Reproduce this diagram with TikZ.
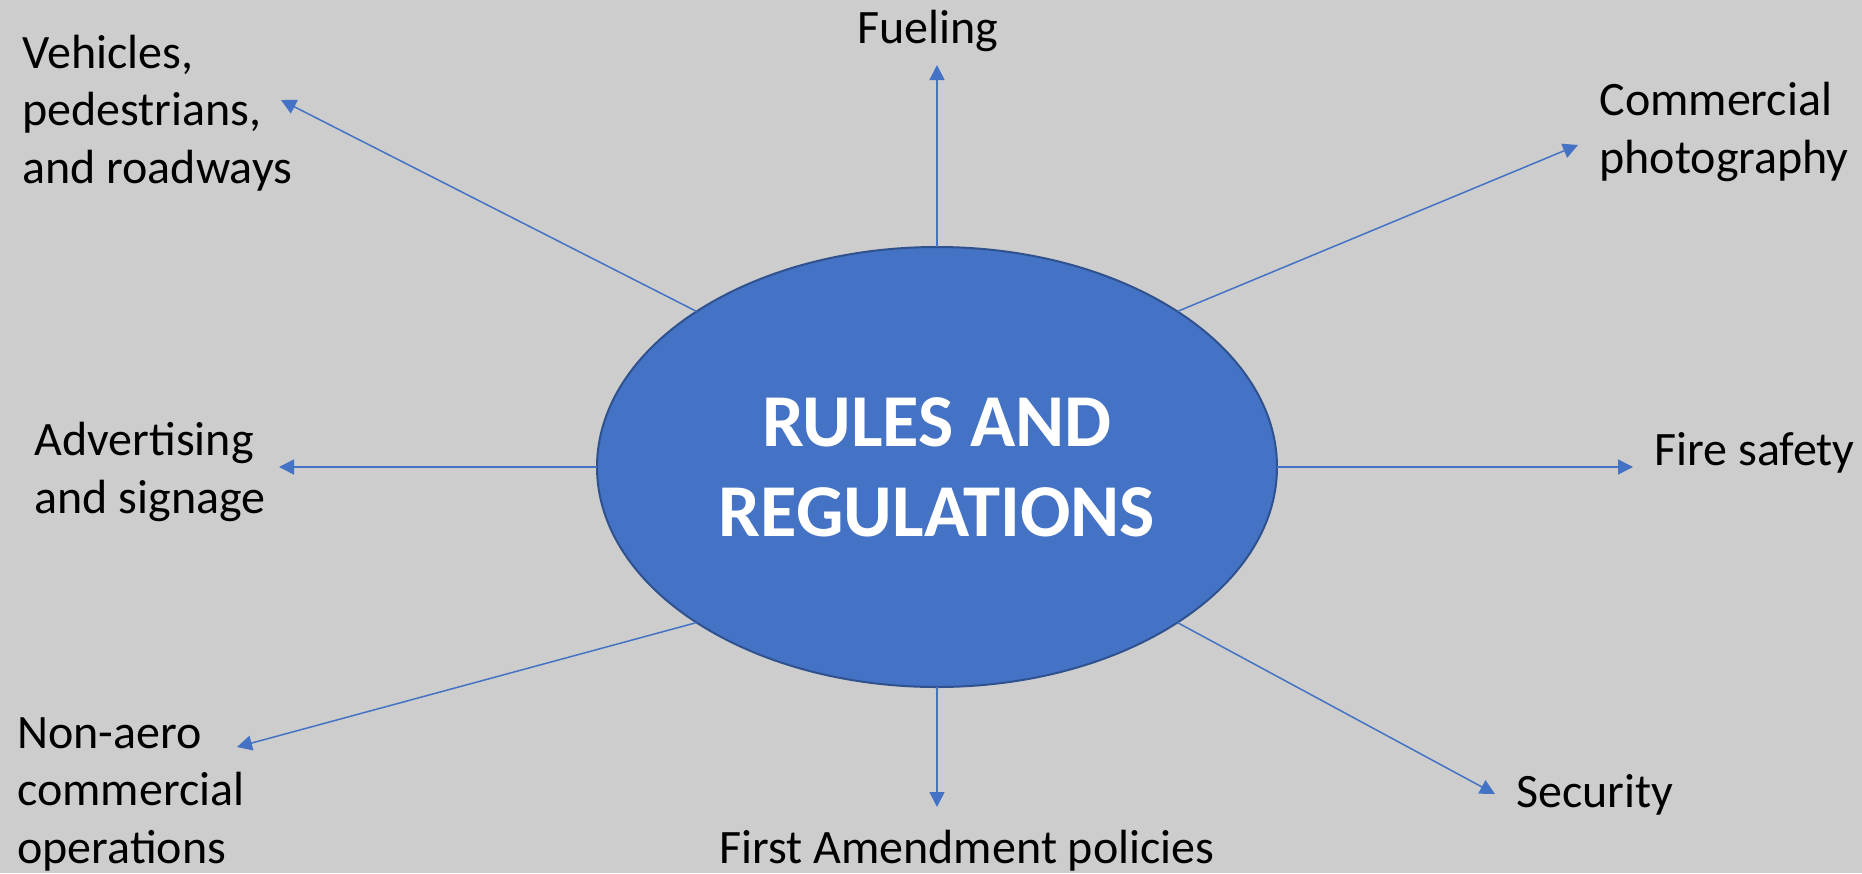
\documentclass[tikz,border=0pt]{standalone}
\usepackage{fontspec}
\setmainfont{Carlito}
\usetikzlibrary{shapes.geometric}
\usetikzlibrary{arrows.meta}

\begin{document}
\begin{tikzpicture}[x=0.5pt,y=-0.5pt,
  topic/.style={inner sep=0pt, anchor=base west, align=left, font=\fontsize{24}{28.75}\selectfont},
  link/.style={draw=RuleBlue, line width=0.75pt, -{Triangle[length=7.5pt,width=7.5pt]}}]
\definecolor{RuleBlue}{HTML}{4472C4}
\definecolor{RuleEdge}{HTML}{2F528F}
\definecolor{Slide}{HTML}{CDCDCD}

\fill[Slide] (0,0) rectangle (1862,873);
\useasboundingbox (0,0) rectangle (1862,873);

\node[ellipse, fill=RuleBlue, draw=RuleEdge, line width=1pt, minimum width=340pt, minimum height=220pt,
  inner sep=0pt, outer sep=0pt, align=center, text=white, font=\fontsize{37.3}{45}\selectfont\bfseries]
  (rules) at (937,467) {RULES AND\\REGULATIONS};

% labels round the ellipse (anchored at the baseline of their last line)
\node[topic] (veh) at (22,183) {Vehicles,\\pedestrians,\\and roadways};
\node[topic] (fuel) at (857,43) {Fueling};
\node[topic] (photo) at (1599,173) {Commercial\\photography};
\node[topic] (fire) at (1654,465) {Fire safety};
\node[topic] (sec) at (1516,807) {Security};
\node[topic] (first) at (719,863) {First Amendment policies};
\node[topic] (nonaero) at (17,863) {Non-aero\\commercial\\operations};
\node[topic] (adv) at (34,513) {Advertising\\and signage};

% arrow tips
\coordinate (tveh) at (281,100);
\coordinate (tfuel) at (937,65);
\coordinate (tphoto) at (1578,145);
\coordinate (tfire) at (1633,467);
\coordinate (tsec) at (1495,794);
\coordinate (tfirst) at (937,807);
\coordinate (tnonaero) at (237,747);
\coordinate (tadv) at (279,467);

\draw[link] (rules.north west) -- (tveh);
\draw[link] (rules.north) -- (tfuel);
\draw[link] (rules.north east) -- (tphoto);
\draw[link] (rules.east) -- (tfire);
\draw[link] (rules.south east) -- (tsec);
\draw[link] (rules.south) -- (tfirst);
\draw[link] (rules.south west) -- (tnonaero);
\draw[link] (rules.west) -- (tadv);

\end{tikzpicture}
\end{document}
